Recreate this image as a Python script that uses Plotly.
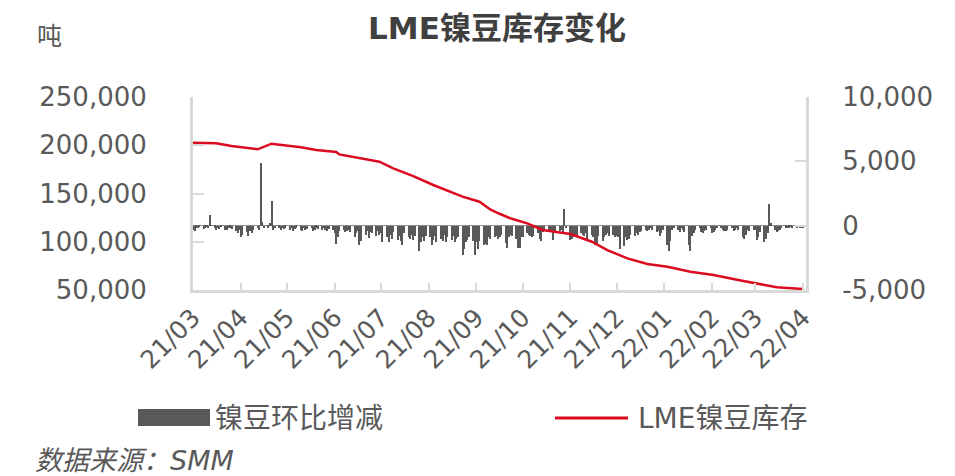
import pandas as pd
import plotly.graph_objects as go

# ---------------- data ----------------
title_text = "LME镍豆库存变化"
unit_text = "吨"
source_text = "数据来源：SMM"
bar_name = "镍豆环比增减"
line_name = "LME镍豆库存"

month_starts = ["2021-03-01", "2021-04-01", "2021-05-01", "2021-06-01", "2021-07-01",
                "2021-08-01", "2021-09-01", "2021-10-01", "2021-11-01", "2021-12-01",
                "2022-01-01", "2022-02-01", "2022-03-01", "2022-04-01"]
month_labels = ["21/03", "21/04", "21/05", "21/06", "21/07", "21/08", "21/09",
                "21/10", "21/11", "21/12", "22/01", "22/02", "22/03", "22/04"]

left_ticks = [50000, 100000, 150000, 200000, 250000]
left_labels = ["50,000", "100,000", "150,000", "200,000", "250,000"]
right_ticks = [-5000, 0, 5000, 10000]
right_labels = ["-5,000", "0", "5,000", "10,000"]

# LME nickel briquette stock (tonnes)
stock_dates = ["2021-03-01", "2021-03-16", "2021-03-26", "2021-04-12", "2021-04-21",
               "2021-04-28", "2021-05-10", "2021-05-20",
               "2021-06-02", "2021-06-04", "2021-06-15", "2021-06-30", "2021-07-09",
               "2021-07-22", "2021-08-04", "2021-08-23", "2021-09-03", "2021-09-10",
               "2021-09-16", "2021-09-23", "2021-10-04", "2021-10-14", "2021-11-01",
               "2021-11-15", "2021-11-25", "2021-12-08", "2021-12-21", "2022-01-03",
               "2022-01-18", "2022-02-02", "2022-02-18", "2022-03-02", "2022-03-15",
               "2022-04-01"]
stock_values = [202600, 202000, 199200, 195800, 201600,
                200400, 197900, 195100,
                193000, 190500, 187100, 183000, 176100,
                168100, 158800, 146700, 141500, 133500,
                129000, 124300, 119100, 112200, 108000,
                100000, 91400, 82800, 76900, 74100,
                69000, 65500, 60400, 56900, 52800,
                51000]

# daily change (tonnes), one value per LME trading day of each month
chg_2021_03 = [-300, -400, -150, -200, -100, -250, -150, -100, -200, 800, -150, -300,
               -200, -250, -100, -300, -350, -200, -150, -250, -400, -600, -300]
chg_2021_04 = [-900, -700, -500, -800, -400, -600, -300, -200, -300, 4900, 300, -200,
               -150, 200, 1900, -300, -200, -150, -300, -200, -250, -150]
chg_2021_05 = [-300, -200, -400, -250, -150, -350, -450, -200, -300, -250, -200, -400,
               -300, -150, -250, -350, -200, -300, -400, -250, -300]
chg_2021_06 = [-600, -1400, -900, -400, -300, -500, -400, -300, -500, -850, -600, -400,
               -1500, -1200, -700, -400, -950, -500, -600, -800, -400, -700]
chg_2021_07 = [-600, -1300, -900, -1300, -700, -1000, -500, -1100, -800, -1200, -1500,
               -600, -900, -1000, -700, -1100, -800, -1950, -1300, -900, -1200, -800]
chg_2021_08 = [-900, -1500, -1100, -800, -1300, -1000, -1200, -700, -1300, -900, -1100,
               -800, -1300, -1000, -900, -2250, -1800, -1300, -1100, -900, -1200, -2250]
chg_2021_09 = [-1300, -1800, -1200, -1500, -1400, -1500, -900, -1000, -900, -800, -1000,
               -900, -700, -1350, -1700, -900, -700, -800, -1000, -1700, -1700, -900]
chg_2021_10 = [-900, -600, -700, -800, -900, -800, -600, -1000, -1200, -500, -400, -400,
               -500, -300, -1100, -600, -400, -300, -500, 1300, -200]
chg_2021_11 = [-1100, -1000, -900, -700, -850, -600, -700, -800, -600, -1200, -700, -900,
               -1500, -1500, -800, -1200, -900, -700, -600, -800, -700, -900]
chg_2021_12 = [-800, -900, -1850, -1600, -900, -1100, -1000, -700, -800, -600, -700, -500,
               -400, -300, -400, -300, -200, -300, -500, -400, -800, -600, -300]
chg_2022_01 = [-1500, -2000, -1200, -300, -200, -300, -500, -200, -300, -500, -1500,
               -2000, -800, -600, -300, -200, -500, -600, -400, -300, -200]
chg_2022_02 = [-600, -500, -300, -200, -200, -300, -400, -400, -300, -200, -400, -300,
               -200, -300, -900, -1000, -700, -300, -400, -300]
chg_2022_03 = [-300, -1100, -900, -500, -1300, -1000, -600, 1650, 200, -300, -500, -400,
               -300, -200, -150, -200, -150, -100, -200, -150, -100, -200, -150]
chg_2022_04 = [-150]

monthly_changes = [chg_2021_03, chg_2021_04, chg_2021_05, chg_2021_06, chg_2021_07,
                   chg_2021_08, chg_2021_09, chg_2021_10, chg_2021_11, chg_2021_12,
                   chg_2022_01, chg_2022_02, chg_2022_03, chg_2022_04]

chg_dates, chg_values = [], []
for start, vals in zip(month_starts, monthly_changes):
    days = pd.bdate_range(start, pd.Timestamp(start) + pd.offsets.MonthEnd(0))
    for d, v in zip(days, vals):
        chg_dates.append(d)
        chg_values.append(v)

# ---------------- styling ----------------
OFF = 8                      # page body margin of the html page
W, H = 955 - OFF, 476 - OFF  # figure size
# plot area in screen pixels: x 193..806, y 97..290
L = 193 - OFF
T = 97 - OFF
R = W - (806 - OFF)
B = H - (290 - OFF)
PW, PH = W - L - R, H - T - B


def px_x(px):
    return (px - OFF - L) / PW


def px_y(py):
    return (H - B - (py - OFF)) / PH


FONT = "DejaVu Sans, Noto Sans CJK SC, sans-serif"
TXT = "#595959"
AX = "#D9D9D9"
RED = "#DC0A1E"
GRAY = "#595959"

fig = go.Figure()
fig.add_trace(go.Bar(x=chg_dates, y=chg_values, name=bar_name, marker_color=GRAY,
                     marker_line_width=0, width=86400000 * 1.3, yaxis="y",
                     showlegend=False))
fig.add_trace(go.Scatter(x=stock_dates, y=stock_values, name=line_name, mode="lines",
                         line=dict(color=RED, width=2.5), yaxis="y2",
                         showlegend=False))

fig.update_layout(
    width=W, height=H,
    margin=dict(l=L, r=R, t=T, b=B, autoexpand=False),
    paper_bgcolor="white", plot_bgcolor="white",
    font=dict(family=FONT, color=TXT),
    title=dict(text="<b>" + title_text + "</b>", x=(497 - OFF) / W, xanchor="center",
               y=1 - (28 - OFF) / H, yanchor="middle",
               font=dict(size=31, color="#404040", family=FONT)),
    bargap=0,
    xaxis=dict(type="date", range=["2021-03-01", "2022-04-03"],
               tickvals=month_starts, ticktext=month_labels, tickangle=-45,
               tickfont=dict(size=25, color=TXT),
               showgrid=False, zeroline=False,
               showline=True, linecolor=AX, linewidth=3,
               ticks="inside", ticklen=7, tickwidth=2, tickcolor=AX),
    yaxis=dict(side="right", range=[-5000, 10000], tickvals=right_ticks,
               ticktext=right_labels, tickfont=dict(size=26, color=TXT),
               showgrid=False, zeroline=True, zerolinecolor="#8C8C8C",
               zerolinewidth=1,
               showline=True, linecolor=AX, linewidth=3,
               ticks="inside", ticklen=11, tickwidth=2, tickcolor=AX,
               ticklabelstandoff=28),
    yaxis2=dict(side="left", overlaying="y", range=[50000, 250000],
                tickvals=left_ticks, ticktext=left_labels,
                tickfont=dict(size=26, color=TXT),
                showgrid=False, zeroline=False,
                showline=True, linecolor=AX, linewidth=3,
                ticks="inside", ticklen=11, tickwidth=2, tickcolor=AX,
                ticklabelstandoff=38),
)

# unit label
fig.add_annotation(text=unit_text, xref="paper", yref="paper", x=px_x(49), y=px_y(36),
                   xanchor="center", yanchor="middle", showarrow=False,
                   font=dict(size=25, color=TXT, family=FONT))

# legend (drawn manually to mimic the wide swatches)
fig.add_shape(type="rect", xref="paper", yref="paper",
              x0=px_x(138), x1=px_x(210), y0=px_y(426), y1=px_y(409),
              fillcolor=GRAY, line_width=0)
fig.add_annotation(text=bar_name, xref="paper", yref="paper", x=px_x(213), y=px_y(418),
                   xanchor="left", yanchor="middle", showarrow=False,
                   font=dict(size=28, color=TXT, family=FONT))
fig.add_shape(type="line", xref="paper", yref="paper",
              x0=px_x(555), x1=px_x(628), y0=px_y(418), y1=px_y(418),
              line=dict(color=RED, width=3))
fig.add_annotation(text=line_name, xref="paper", yref="paper", x=px_x(636), y=px_y(418),
                   xanchor="left", yanchor="middle", showarrow=False,
                   font=dict(size=28, color=TXT, family=FONT))

# source note
fig.add_annotation(text="<i>" + source_text + "</i>", xref="paper", yref="paper",
                   x=px_x(33), y=px_y(460), xanchor="left", yanchor="middle",
                   showarrow=False, font=dict(size=27, color=TXT, family=FONT))

fig.write_html("out.html")
